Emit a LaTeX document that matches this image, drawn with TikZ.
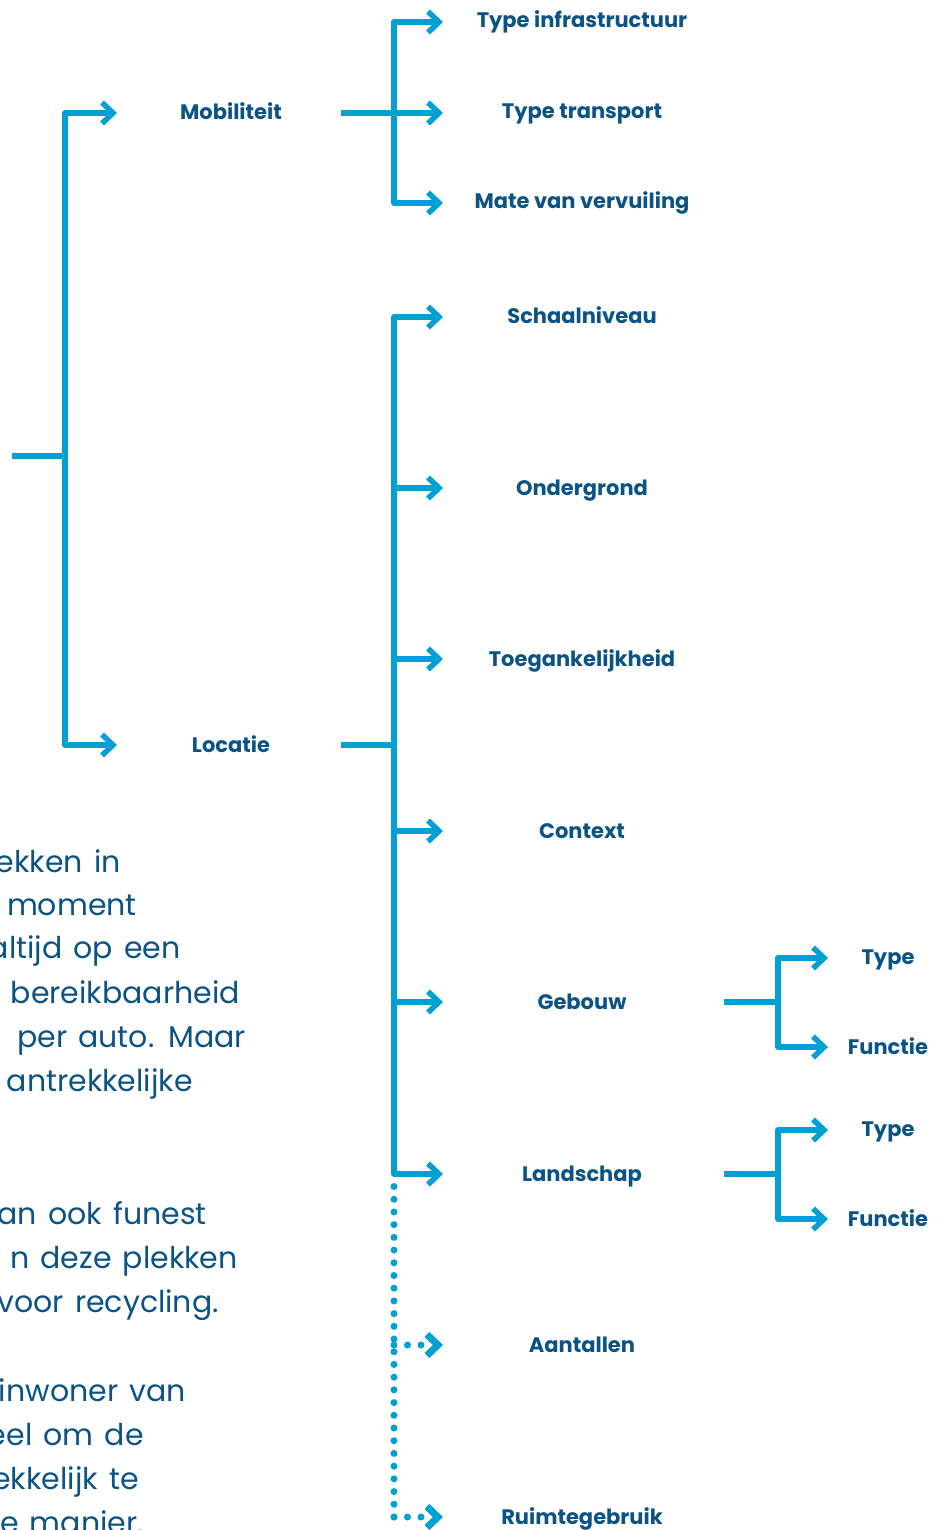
\documentclass[tikz,border=0pt]{standalone}
\usepackage{fontspec}
\setmainfont{Poppins}
\newfontfamily\bodyfont{Poppins}[WordSpace=1.4]
\usetikzlibrary{arrows.meta}
\definecolor{linec}{HTML}{00A0D2}
\definecolor{textc}{HTML}{0B5384}
\begin{document}
\begin{tikzpicture}[x=1pt,y=-1pt,
  conn/.style={draw=linec,line width=5.5pt,line join=round},
  tip/.style={-{Straight Barb[length=11pt,width=21pt,line join=miter]}},
  twotip/.style={{Straight Barb[length=11pt,width=21pt,line join=miter]}-{Straight Barb[length=11pt,width=21pt,line join=miter]}},
  vdots/.style={draw=linec,line width=7pt,line cap=round,dash pattern=on 0pt off 12.71pt},
  hdots/.style={draw=linec,line width=7pt,line cap=round,dash pattern=on 0pt off 13.5pt},
  lab/.style={text=textc,font=\bfseries\fontsize{21}{24}\selectfont,inner sep=0pt,anchor=base},
  body/.style={text=textc,font=\bodyfont\fontsize{30}{36}\selectfont,inner sep=0pt,anchor=base east}]
\useasboundingbox (0,0) rectangle (942,1530);
\clip (0,0) rectangle (942,1530);

% ---------- level 1 ----------
\coordinate (root) at (12,456);
\coordinate (rj) at (65,456);
\coordinate (m0) at (65,113);
\coordinate (l0) at (65,745);
\coordinate (ma) at (117,113);
\coordinate (la) at (117,745);
\node[lab] (mob) at (231,120) {Mobiliteit};
\node[lab] (loc) at (231,752) {Locatie};
\draw[conn] (root) -- (rj);
\draw[conn,twotip] (ma) -- (m0) -- (l0) -- (la);

% ---------- Mobiliteit ----------
\coordinate (ms) at (341,113);
\coordinate (mj) at (394,113);
\coordinate (mt) at (394,22);
\coordinate (mb) at (394,203);
\coordinate (a1) at (443,22);
\coordinate (a2) at (443,113);
\coordinate (a3) at (443,203);
\node[lab] (ti) at (582,28) {Type infrastructuur};
\node[lab] (tt) at (582,119) {Type transport};
\node[lab] (mv) at (582,209) {Mate van vervuiling};
\draw[conn] (ms) -- (mj);
\draw[conn,twotip] (a1) -- (mt) -- (mb) -- (a3);
\draw[conn,tip] (mj) -- (a2);

% ---------- Locatie ----------
\coordinate (ls) at (341,745);
\coordinate (lj) at (394,745);
\coordinate (lt) at (394,317);
\coordinate (lb) at (394,1174);
\coordinate (b1) at (443,317);
\coordinate (b2) at (443,488);
\coordinate (b3) at (443,659);
\coordinate (b4) at (443,831);
\coordinate (b5) at (443,1002);
\coordinate (b6) at (443,1174);
\coordinate (v2) at (394,488);
\coordinate (v3) at (394,659);
\coordinate (v4) at (394,831);
\coordinate (v5) at (394,1002);
\node[lab] (sch) at (582,323) {Schaalniveau};
\node[lab] (ond) at (582,495) {Ondergrond};
\node[lab] (toe) at (582,666) {Toegankelijkheid};
\node[lab] (con) at (582,838) {Context};
\node[lab] (geb) at (582,1009) {Gebouw};
\node[lab] (lan) at (582,1181) {Landschap};
\node[lab] (aan) at (582,1352) {Aantallen};
\node[lab] (rui) at (582,1524) {Ruimtegebruik};
\draw[conn] (ls) -- (lj);
\draw[conn,twotip] (b1) -- (lt) -- (lb) -- (b6);
\draw[conn,tip] (v2) -- (b2);
\draw[conn,tip] (v3) -- (b3);
\draw[conn,tip] (v4) -- (b4);
\draw[conn,tip] (v5) -- (b5);

% dotted part
\coordinate (d0) at (394,1186.5);
\coordinate (d1) at (394,1345);
\coordinate (d2) at (394,1517);
\coordinate (c1) at (443,1345);
\coordinate (c2) at (443,1517);
\draw[vdots] (d0) -- (d2);
\draw[hdots,tip] (d1) -- (c1);
\draw[hdots,tip] (d2) -- (c2);

% ---------- Gebouw ----------
\coordinate (gs) at (724,1002);
\coordinate (gj) at (778,1002);
\coordinate (gt) at (778,958);
\coordinate (gb) at (778,1047);
\coordinate (g1) at (828,958);
\coordinate (g2) at (828,1047);
\node[lab] (gty) at (888,964) {Type};
\node[lab] (gfu) at (888,1054) {Functie};
\draw[conn] (gs) -- (gj);
\draw[conn,twotip] (g1) -- (gt) -- (gb) -- (g2);

% ---------- Landschap ----------
\coordinate (hs) at (724,1174);
\coordinate (hj) at (778,1174);
\coordinate (ht) at (778,1130);
\coordinate (hb) at (778,1219);
\coordinate (h1) at (828,1130);
\coordinate (h2) at (828,1219);
\node[lab] (lty) at (888,1136) {Type};
\node[lab] (lfu) at (888,1226) {Functie};
\draw[conn] (hs) -- (hj);
\draw[conn,twotip] (h1) -- (ht) -- (hb) -- (h2);

% ---------- body text (cut off at left edge) ----------
\node[body] (p1) at (121,872) {ekken in};
\node[body] (p2) at (137,915) {t moment};
\node[body] (p3) at (181,958) {altijd op een};
\node[body] (p4) at (240,1003) {bereikbaarheid};
\node[body] (p5) at (246,1047) {per auto. Maar};
\node[body] (p6) at (193,1091) {antrekkelijke};
\node[body] (q1) at (207,1224) {an ook funest};
\node[body] (q2) at (238,1268) {n deze plekken};
\node[body] (q3) at (219,1312) {voor recycling.};
\node[body] (r1) at (186,1401) {inwoner van};
\node[body] (r2) at (144,1445) {eel om de};
\node[body] (r3) at (139,1489) {ekkelijk te};
\node[body] (r4) at (144,1533) {e manier.};
\end{tikzpicture}
\end{document}
